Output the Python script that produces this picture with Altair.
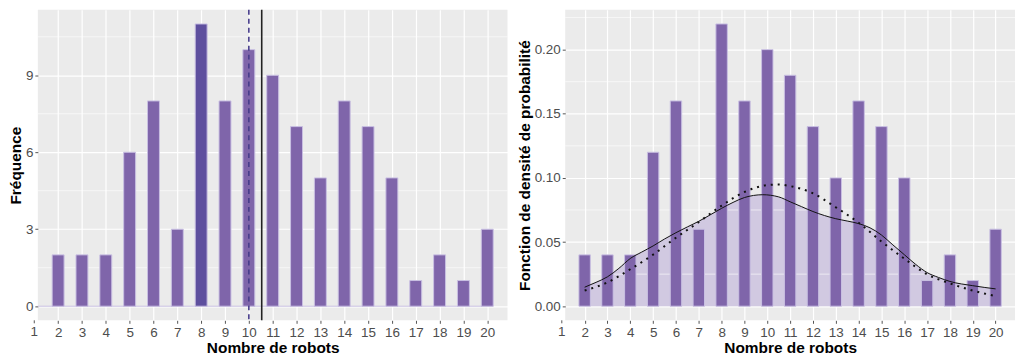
import altair as alt
import pandas as pd

# ---- data ----
robots = list(range(2, 21))
freq = [2, 2, 2, 6, 8, 3, 11, 8, 10, 9, 7, 5, 8, 7, 5, 1, 2, 1, 3]
density = [0.04, 0.04, 0.04, 0.12, 0.16, 0.06, 0.22, 0.16, 0.20, 0.18,
           0.14, 0.10, 0.16, 0.14, 0.10, 0.02, 0.04, 0.02, 0.06]
highlight = [8]
median_val = [10]
mean_val = [10.54]

kde_x = [2, 2.5, 3, 3.5, 4, 4.5, 5, 5.5, 6, 6.5, 7, 7.5, 8, 8.5, 9, 9.8,
         10.5, 11, 11.5, 12, 12.5, 13, 13.5, 14, 14.5, 15, 15.5, 16, 16.5,
         17, 17.5, 18, 19, 20]
kde_y = [0.0148, 0.0186, 0.0229, 0.0295, 0.0372, 0.0422, 0.0470, 0.0524,
         0.0573, 0.0618, 0.0662, 0.0712, 0.0763, 0.0809, 0.0847, 0.0869,
         0.0852, 0.0814, 0.0776, 0.0738, 0.0707, 0.0682, 0.0664, 0.0644,
         0.0611, 0.0555, 0.0478, 0.0402, 0.0326, 0.0262, 0.0224, 0.0193,
         0.0160, 0.0135]

norm_x = [2, 3, 4, 5, 6, 7, 8, 9, 10, 10.5, 11, 12, 13, 14, 15, 16, 17, 18, 19, 20]
norm_y = [0.0122, 0.0186, 0.0288, 0.0402, 0.0534, 0.0656, 0.0784, 0.0890,
          0.0944, 0.0949, 0.0936, 0.0880, 0.0771, 0.0651, 0.0504, 0.0371,
          0.0249, 0.0178, 0.0122, 0.0079]

x_ticks = list(range(1, 21))
outside_ticks = [1]  # tick just left of the panel edge
left_y_ticks = [0, 3, 6, 9]
left_y_minor = [1.5, 4.5, 7.5, 10.5]
right_y_ticks = [0.0, 0.05, 0.10, 0.15, 0.20]
right_y_minor = [0.025, 0.075, 0.125, 0.175, 0.225]

X_DOMAIN = [1.15, 20.85]
LEFT_Y_DOMAIN = [-0.55, 11.55]
RIGHT_Y_DOMAIN = [-0.011, 0.231]

H = 312
BAR = "#7F65AA"
BAR_HL = "#5E4F9E"
BAR_EDGE = "#C9BFE2"
AREA = "#D1C9E1"
DASH = "#483D8B"
FONT = "Liberation Sans"
LABEL_COLOR = "#4D4D4D"
TICK_COLOR = "#555555"
LABEL_SIZE = 13.5

bars_df = pd.DataFrame({"robots": robots, "freq": freq, "density": density})
bars_df["hl"] = bars_df["robots"].isin(highlight)
kde_df = pd.DataFrame({"x": kde_x, "y": kde_y})
norm_df = pd.DataFrame({"x": norm_x, "y": norm_y})
out_df = pd.DataFrame({"t": outside_ticks})

xscale = alt.Scale(domain=X_DOMAIN, nice=False, zero=False)
xaxis = alt.Axis(values=x_ticks, title="Nombre de robots", format="d",
                 labelOverlap=False, labelFlush=False, tickCount=20)

ly = alt.Scale(domain=LEFT_Y_DOMAIN, nice=False, zero=False)
ry = alt.Scale(domain=RIGHT_Y_DOMAIN, nice=False, zero=False)
lyaxis = alt.Axis(values=left_y_ticks, title="Fréquence")
ryaxis = alt.Axis(values=right_y_ticks, format=".2f",
                  title="Fonction de densité de probabilité")


def outside_tick_layers():
    tick = alt.Chart(out_df).mark_rule(color=TICK_COLOR, strokeWidth=1).encode(
        x=alt.X("t:Q", scale=xscale, axis=xaxis),
        y=alt.value(H), y2=alt.value(H + 3))
    lab = alt.Chart(out_df).mark_text(
        font=FONT, fontSize=LABEL_SIZE, color=LABEL_COLOR, baseline="top", align="center"
    ).encode(x=alt.X("t:Q", scale=xscale, axis=xaxis), y=alt.value(H + 5), text="t:Q")
    return [tick, lab]


# ---------------- left panel ----------------
l_zero = alt.Chart(pd.DataFrame({"x0": [X_DOMAIN[0]], "x1": [robots[-1] + 0.25], "y": [0]})).mark_rule(
    color=BAR_EDGE, strokeWidth=1).encode(
    x=alt.X("x0:Q", scale=xscale, axis=xaxis), x2="x1:Q",
    y=alt.Y("y:Q", scale=ly, axis=lyaxis))

l_minor = alt.Chart(pd.DataFrame({"v": left_y_minor})).mark_rule(
    color="white", strokeWidth=0.6).encode(y=alt.Y("v:Q", scale=ly, axis=lyaxis))

l_bars = alt.Chart(bars_df).transform_calculate(
    xa="datum.robots - 0.25", xb="datum.robots + 0.25"
).mark_bar(stroke=BAR_EDGE, strokeWidth=1).encode(
    x=alt.X("xa:Q", scale=xscale, axis=xaxis),
    x2="xb:Q",
    y=alt.Y("freq:Q", scale=ly, axis=lyaxis),
    y2=alt.datum(0),
    color=alt.condition("datum.hl", alt.value(BAR_HL), alt.value(BAR)),
)

l_med = alt.Chart(pd.DataFrame({"m": median_val})).mark_rule(
    color=DASH, strokeWidth=1.6, strokeDash=[5, 4]).encode(x=alt.X("m:Q", scale=xscale, axis=xaxis))
l_mean = alt.Chart(pd.DataFrame({"m": mean_val})).mark_rule(
    color="#222222", strokeWidth=1.6).encode(x=alt.X("m:Q", scale=xscale, axis=xaxis))

left = alt.layer(l_zero, l_minor, l_bars, l_med, l_mean, *outside_tick_layers()).properties(
    width=472, height=H)

# ---------------- right panel ----------------
r_area = alt.Chart(kde_df).mark_area(color=AREA, interpolate="monotone").encode(
    x=alt.X("x:Q", scale=xscale, axis=xaxis),
    y=alt.Y("y:Q", scale=ry, axis=ryaxis),
    y2=alt.datum(0),
)

r_minor = alt.Chart(pd.DataFrame({"v": right_y_minor})).mark_rule(
    color="white", strokeWidth=0.6).encode(y=alt.Y("v:Q", scale=ry, axis=ryaxis))

r_bars = alt.Chart(bars_df).transform_calculate(
    xa="datum.robots - 0.25", xb="datum.robots + 0.25"
).mark_bar(stroke=BAR_EDGE, strokeWidth=1, color=BAR).encode(
    x=alt.X("xa:Q", scale=xscale, axis=xaxis),
    x2="xb:Q",
    y=alt.Y("density:Q", scale=ry, axis=ryaxis),
    y2=alt.datum(0),
)

r_kde = alt.Chart(kde_df).mark_line(color="#111111", strokeWidth=1, interpolate="monotone").encode(
    x=alt.X("x:Q", scale=xscale, axis=xaxis), y=alt.Y("y:Q", scale=ry, axis=ryaxis))

r_norm = alt.Chart(norm_df).mark_line(color="#111111", strokeWidth=2, strokeDash=[2, 5],
                                      interpolate="monotone").encode(
    x=alt.X("x:Q", scale=xscale, axis=xaxis), y=alt.Y("y:Q", scale=ry, axis=ryaxis))

right = alt.layer(r_area, r_minor, r_bars, r_kde, r_norm, *outside_tick_layers()).properties(
    width=452, height=H)

chart = alt.hconcat(left, right, spacing=8).properties(
    padding={"left": 0, "top": 0, "right": 0, "bottom": 0}
).configure_view(
    fill="#EBEBEB", stroke=None
).configure_axis(
    labelFont=FONT, labelFontSize=LABEL_SIZE, labelColor=LABEL_COLOR,
    titleFont=FONT, titleFontSize=15.5, titleFontWeight="bold", titleColor="#000000",
    domain=False, tickColor=TICK_COLOR, tickSize=3, tickWidth=1,
    gridColor="white", gridWidth=1.2, labelPadding=2, titlePadding=2,
)

chart.save("out.html", embed_options={"renderer": "svg", "actions": False})
